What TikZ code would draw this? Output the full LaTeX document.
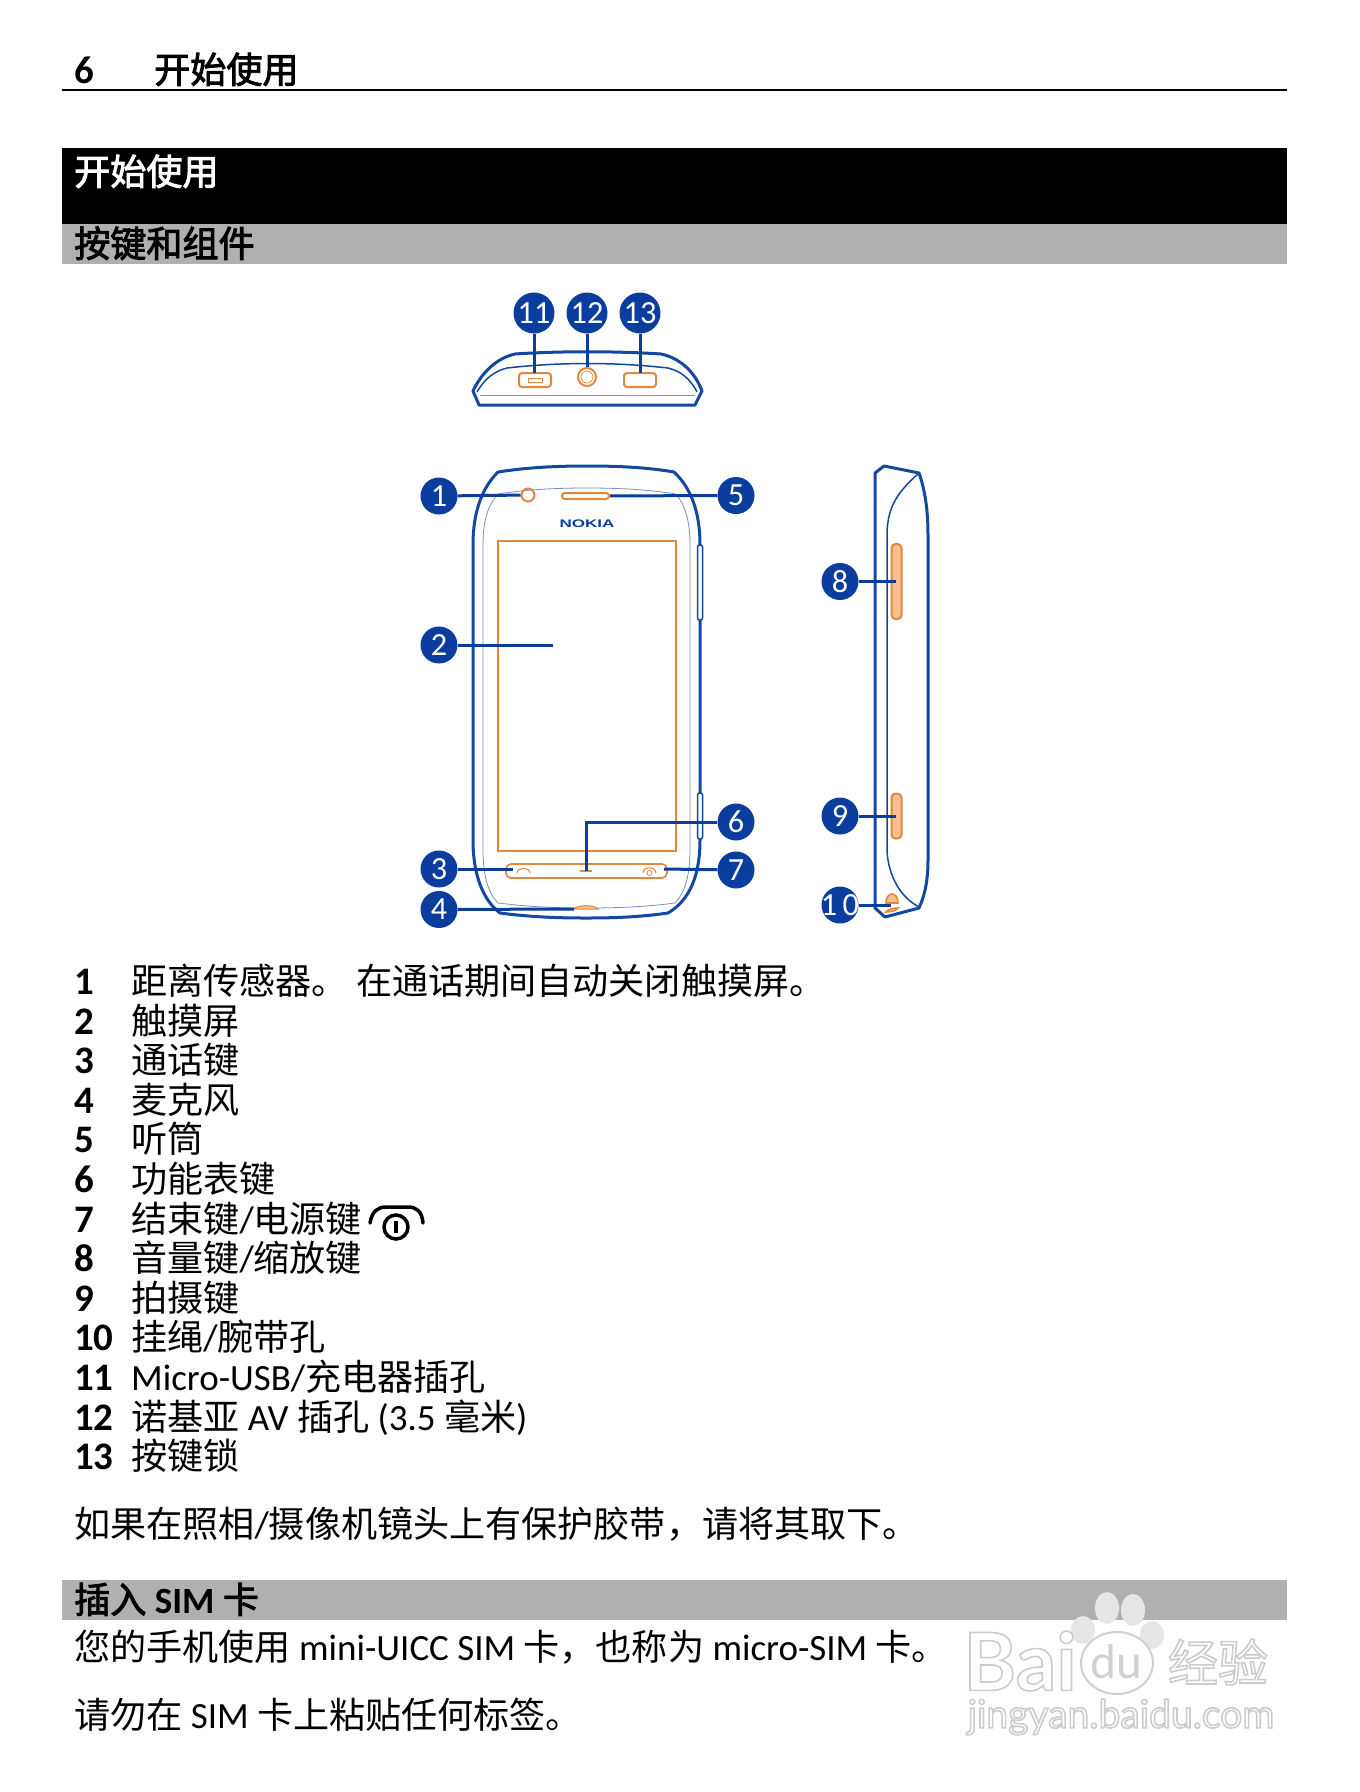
\documentclass[tikz,border=0pt]{standalone}
\usepackage{fontspec}
\setmainfont{Noto Sans CJK SC}
\newfontfamily\latfont[Scale=1.025]{Carlito}
\newfontfamily\nokfont{Liberation Sans}
\newfontfamily\headfont[FakeBold=2.5]{Noto Sans CJK SC}
\newfontfamily\wmlat{Lato}
\usetikzlibrary{positioning,shapes.geometric,calc}
\definecolor{mBlue}{RGB}{10,61,158}
\definecolor{mEdge}{RGB}{18,72,160}
\definecolor{mThin}{RGB}{120,145,190}
\definecolor{mOrange}{RGB}{226,135,60}
\definecolor{mPeach}{RGB}{248,192,140}
\definecolor{mBand}{RGB}{176,176,176}
\definecolor{mMark}{RGB}{230,230,230}
\definecolor{mLine}{RGB}{208,208,208}
\newcommand{\lat}[1]{{\latfont #1}}
\newcommand{\outlined}[1]{\special{pdf:code 2 Tr 1.6 w 0.8 G 1 g}#1\special{pdf:code 0 Tr}}
\tikzset{
callout/.style={circle,fill=mBlue,text=white,inner sep=0pt,minimum size=37pt,font=\latfont\fontsize{31.5}{32}\selectfont},
calloutbig/.style={callout,minimum size=41pt},
leader/.style={draw=mBlue,line width=3pt},
edge/.style={draw=mEdge,line width=3pt,line join=round},
thinline/.style={draw=mThin,line width=.8pt},
portline/.style={draw=mOrange,line width=2pt},
keyfill/.style={portline,fill=mPeach,rounded corners=4pt},
listnum/.style={anchor=base west,inner sep=0pt,font=\latfont\bfseries\fontsize{38}{38}\selectfont},
listtext/.style={anchor=base west,inner sep=0pt,font=\fontsize{36.1}{37}\selectfont},
headtext/.style={listtext,font=\headfont\fontsize{36.1}{37}\selectfont},
markword/.style={text=white,inner sep=0pt}
}
\begin{document}
\begin{tikzpicture}[x=1pt,y=-1pt]
\useasboundingbox (0,0) rectangle (1360,1792);
\fill[white] (0,0) rectangle (1360,1792);
% page head and bands
\draw[line width=1.6pt] (62,90) -- (1287,90);
\fill[black] (62,148) rectangle (1287,224);
\fill[mBand] (62,224) rectangle (1287,264);
\fill[mBand] (62,1580) rectangle (1287,1620);
\node[listnum] (pageno) at (74,83) {6};
\node[headtext] (pagehead) at (154,83) {开始使用};
\node[headtext,text=white] (chaphead) at (74,185) {开始使用};
\node[headtext] (keyshead) at (74,257) {按键和组件};
% top view
\draw[edge] (479,405) -- (473,391) .. controls (482,372) and (497,358) .. (515,354) .. controls (560,351) and (615,351) .. (661,354) .. controls (680,358) and (695,372) .. (702,391) -- (695,405) -- cycle;
\draw[edge,line width=1.5pt] (477,392) .. controls (485,378) and (495,371) .. (507,368) .. controls (560,362) and (615,362) .. (668,368) .. controls (680,371) and (690,378) .. (697,392);
\draw[thinline] (480,395) -- (695,395);
\draw[portline,rounded corners=3pt] (519,373) rectangle (551,387);
\draw[portline,line width=.8pt] (528,378) rectangle (542,382);
\node[circle,portline,minimum size=18pt,inner sep=0pt] (avjack) at (587,377) {};
\node[circle,portline,line width=.7pt,minimum size=12pt,inner sep=0pt] at (587,377) {};
\draw[portline,rounded corners=3pt] (624,373) rectangle (656,387);
\coordinate (usb) at (534,373);
\coordinate (lock) at (640,373);
\node[calloutbig] (c11) at (534,313) {11};
\node[calloutbig] (c12) at (587,313) {12};
\node[calloutbig] (c13) at (640,313) {13};
\draw[leader] (c11) -- (usb);
\draw[leader] (c12) -- (avjack);
\draw[leader] (c13) -- (lock);
% front view
\draw[edge] (473,840) -- (473,545) .. controls (473,510) and (483,487) .. (498,472) .. controls (530,467) and (560,466) .. (587,466) .. controls (615,466) and (645,467) .. (674,472) .. controls (690,487) and (700,510) .. (700,545) -- (700,840) .. controls (700,875) and (690,900) .. (668,913) .. controls (640,917) and (615,918) .. (586,918) .. controls (558,918) and (530,917) .. (500,913) .. controls (483,900) and (473,875) .. (473,840) -- cycle;
\draw[edge,line width=1.5pt,fill=white,rounded corners=2pt] (697.5,545) rectangle (702.5,620);
\draw[edge,line width=1.5pt,fill=white,rounded corners=2pt] (697.5,793) rectangle (702.5,839);
\draw[thinline] (483,850) -- (483,545) .. controls (483,520) and (488,505) .. (498,494) .. controls (530,489) and (560,488) .. (587,488) .. controls (615,488) and (645,489) .. (676,494) .. controls (685,505) and (690,520) .. (690,545) -- (690,850) .. controls (690,875) and (685,893) .. (675,903) .. controls (645,907) and (615,908) .. (586,908) .. controls (558,908) and (530,907) .. (498,903) .. controls (488,893) and (483,875) .. (483,850) -- cycle;
\draw[portline,line width=1.6pt] (498,541) rectangle (676,851);
\node[circle,portline,minimum size=13pt,inner sep=0pt] (prox) at (528,495) {};
\node[portline,rounded corners=3pt,minimum width=47pt,minimum height=6pt,inner sep=0pt] (earpiece) at (585.5,496) {};
\node[text=mBlue,inner sep=0pt] (nokia) at (587,524) {\nokfont\bfseries\fontsize{11}{11}\selectfont\scalebox{1.55}[1]{NOKIA}};
\draw[portline,line width=1.6pt,rounded corners=5pt] (506,864) rectangle (667,878);
\draw[portline,line width=1pt] (517,873) .. controls (517,867) and (530,867) .. (530,873);
\draw[portline,line width=1pt] (643,873) .. controls (643,866) and (656,866) .. (656,873);
\node[circle,portline,line width=.8pt,minimum size=5pt,inner sep=0pt] (endicon) at (649.5,873) {};
\draw[portline] (580,871) -- (592,871);
\draw[portline,line width=1pt,fill=mPeach] (574,909) .. controls (578,904.5) and (594,904.5) .. (598,909) -- cycle;
\coordinate (screen) at (553,645);
\coordinate (callkey) at (513,869);
\coordinate (menukey) at (586,871);
\coordinate (mic) at (574,909);
\coordinate (endkey) at (664,869);
\node[callout] (c1) at (439,496) {1};
\node[callout] (c2) at (439,645) {2};
\node[callout] (c3) at (439,869) {3};
\node[callout] (c4) at (439,909.5) {4};
\node[callout] (c5) at (736,495.5) {5};
\node[callout] (c6) at (736,822) {6};
\node[callout] (c7) at (736,870) {7};
\draw[leader] (c1) -- (prox);
\draw[leader] (c2) -- (screen);
\draw[leader] (c3) -- (callkey);
\draw[leader] (c4) -- (mic);
\draw[leader] (c5) -- (earpiece);
\draw[leader] (c6) -- (menukey |- c6) -- (menukey);
\draw[leader] (c7) -- (endkey);
% side view
\draw[edge] (875,908) -- (875,473) -- (884,466) -- (919,473) .. controls (925,490) and (928,510) .. (928,535) -- (928,860) .. controls (928,880) and (925,895) .. (919,908) -- (885,917) -- cycle;
\draw[edge,line width=1.5pt] (919,473) .. controls (900,490) and (887,505) .. (887,535) -- (887,850) .. controls (888,875) and (900,897) .. (919,907);
\node[keyfill,minimum width=10pt,minimum height=75pt,inner sep=0pt] (volkey) at (896.5,581.5) {};
\node[keyfill,minimum width=10pt,minimum height=45pt,inner sep=0pt] (camkey) at (896.5,816) {};
\draw[portline,line width=1.6pt,fill=mPeach] (886,903) .. controls (886,891) and (898,891) .. (898,903) -- cycle;
\draw[portline,line width=1.6pt,fill=mPeach] (886,912) .. controls (890,912) and (896,911) .. (898,908) .. controls (893,908) and (888,909) .. (886,912) -- cycle;
\coordinate (volend) at (896,581.5);
\coordinate (camend) at (896,816);
\coordinate (loop) at (891,905);
\node[callout] (c8) at (840,581.5) {8};
\node[callout] (c9) at (840,816) {9};
\node[callout] (c10) at (840,905) {\makebox[20pt][c]{1\,0}};
\draw[leader] (c8) -- (volend);
\draw[leader] (c9) -- (camend);
\draw[leader] (c10) -- (loop);
% list
\node[listnum] (n1) at (74,994.5) {1};
\node[listtext] (t1) at (131,994.5) {距离传感器。\lat{ }在通话期间自动关闭触摸屏。};
\node[listnum] (n2) at (74,1034.1) {2};
\node[listtext] (t2) at (131,1034.1) {触摸屏};
\node[listnum] (n3) at (74,1073.7) {3};
\node[listtext] (t3) at (131,1073.7) {通话键};
\node[listnum] (n4) at (74,1113.3) {4};
\node[listtext] (t4) at (131,1113.3) {麦克风};
\node[listnum] (n5) at (74,1152.9) {5};
\node[listtext] (t5) at (131,1152.9) {听筒};
\node[listnum] (n6) at (74,1192.5) {6};
\node[listtext] (t6) at (131,1192.5) {功能表键};
\node[listnum] (n7) at (74,1232.1) {7};
\node[listtext] (t7) at (131,1232.1) {结束键\lat{/}电源键};
\node[listnum] (n8) at (74,1271.7) {8};
\node[listtext] (t8) at (131,1271.7) {音量键\lat{/}缩放键};
\node[listnum] (n9) at (74,1311.3) {9};
\node[listtext] (t9) at (131,1311.3) {拍摄键};
\node[listnum] (n10) at (74,1350.9) {10};
\node[listtext] (t10) at (131,1350.9) {挂绳\lat{/}腕带孔};
\node[listnum] (n11) at (74,1390.5) {11};
\node[listtext] (t11) at (131,1390.5) {\lat{Micro-USB/}充电器插孔};
\node[listnum] (n12) at (74,1430.1) {12};
\node[listtext] (t12) at (131,1430.1) {诺基亚\lat{ AV }插孔\lat{ (3.5 }毫米\lat{)}};
\node[listnum] (n13) at (74,1469.7) {13};
\node[listtext] (t13) at (131,1469.7) {按键锁};
% power key symbol
\draw[line width=3.5pt,line cap=round] (370,1223) .. controls (372,1211) and (378,1207) .. (386,1207) -- (408,1207) .. controls (416,1207) and (422,1211) .. (423,1223);
\node[circle,draw,line width=3.5pt,minimum size=24pt,inner sep=0pt] (powersym) at (396,1227) {};
\draw[line width=3.5pt] (396,1221) -- (396,1233);
% paragraphs
\node[listtext] (note) at (74,1537.5) {如果在照相\lat{/}摄像机镜头上有保护胶带，请将其取下。};
\node[headtext] (simhead) at (74,1613) {插入\lat{\bfseries\ SIM\ }卡};
\node[listtext] (simtext) at (74,1660) {您的手机使用\lat{ mini-UICC SIM }卡，也称为\lat{ micro-SIM }卡。};
\node[listtext] (simnote) at (74,1728) {请勿在\lat{ SIM }卡上粘贴任何标签。};
% watermark
\fill[mMark] (1107,1608) ellipse (12 and 16);
\fill[mMark] (1133,1610) ellipse (12 and 16);
\fill[mMark] (1083,1630) ellipse (12 and 14);
\fill[mMark] (1152,1635) ellipse (12 and 14);
\draw[mLine,line width=2pt,fill=white] (1117,1663) ellipse (36 and 31);
\node[markword] (bai) at (1020,1661) {\wmlat\bfseries\fontsize{80}{80}\selectfont\outlined{Bai}};
\node[text=mLine,inner sep=0pt] (du) at (1116,1662) {\wmlat\fontsize{46}{46}\selectfont du};
\node[markword] (jy) at (1218,1662) {\fontsize{50}{50}\selectfont\outlined{经验}};
\node[markword] (url) at (1121,1717) {\wmlat\fontsize{39}{39}\selectfont\outlined{jingyan.baidu.com}};
\end{tikzpicture}
\end{document}
